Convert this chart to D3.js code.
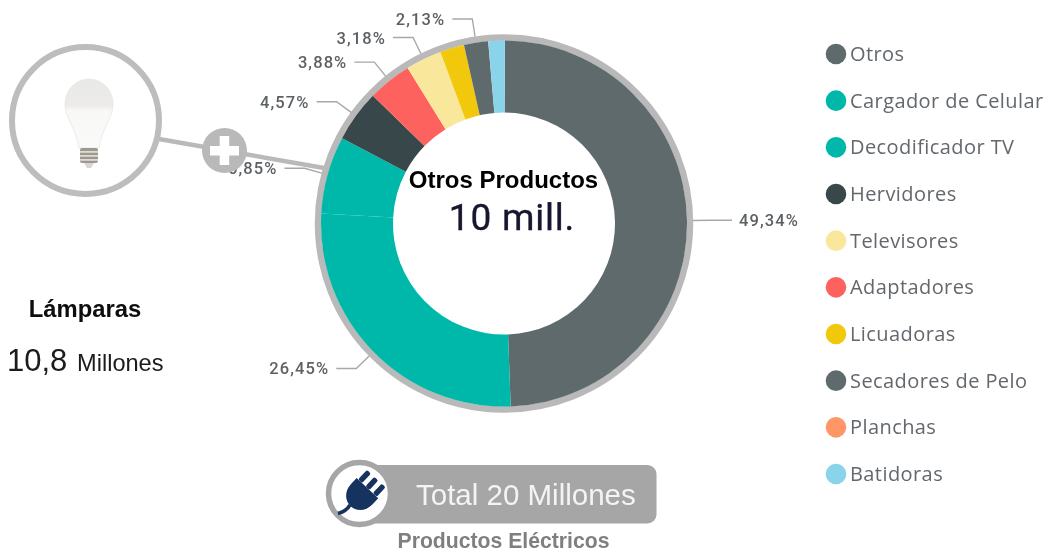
<!DOCTYPE html>
<html><head><meta charset="utf-8">
<style>html,body{margin:0;padding:0;background:#fff;overflow:hidden}svg{display:block}</style>
<script src="https://cdn.jsdelivr.net/npm/d3@7"></script></head>
<body><svg id="c" width="1046" height="554"></svg>
<script>
const legendCategories = ["Otros","Cargador de Celular","Decodificador TV","Hervidores","Televisores","Adaptadores","Licuadoras","Secadores de Pelo","Planchas","Batidoras"];
const legendColors = ["#5F6B6D","#01B8AA","#01B8AA","#374649","#F9E79C","#FD625E","#F2C80F","#5F6B6D","#FE9666","#8AD4EB"];
const sliceCategories = ["Otros","Cargador de Celular","Decodificador TV","Hervidores","Adaptadores","Televisores","Licuadoras","Secadores de Pelo","Planchas","Batidoras"];
const sliceValues = [49.34,26.45,6.85,4.57,3.88,3.18,2.14,2.13,0.01,1.45];
const labelledCategories = ["Otros","Cargador de Celular","Decodificador TV","Hervidores","Adaptadores","Televisores","Secadores de Pelo"];

const svg = d3.select("#c");
const defs = svg.append("defs");
defs.append("filter").attr("id","soft").attr("x","-2%").attr("y","-2%").attr("width","104%").attr("height","104%")
  .append("feGaussianBlur").attr("stdDeviation",0.45);
const bg = defs.append("linearGradient").attr("id","bulb").attr("x1",0).attr("x2",0).attr("y1",0).attr("y2",1);
[[0,"#e9e9e7"],[0.38,"#ecebe9"],[0.46,"#f8f8f6"],[1,"#fafaf9"]].forEach(s=>bg.append("stop").attr("offset",s[0]).attr("stop-color",s[1]));
const root = svg.append("g").attr("filter","url(#soft)");

const color = d3.scaleOrdinal(legendCategories, legendColors);
const cx=504, cy=223.5, rOuter=183, rInner=111, rRing=186, rAnchor=189, rElbow=207;
const pie = d3.pie().sort(null).value(d=>d.v).startAngle(0.005).endAngle(0.005+2*Math.PI);
const arcs = pie(sliceCategories.map((c,i)=>({c,v:sliceValues[i]})));
const arc = d3.arc().innerRadius(rInner).outerRadius(rOuter);
const anchorArc = d3.arc().innerRadius(rAnchor).outerRadius(rAnchor);
const elbowArc = d3.arc().innerRadius(rElbow).outerRadius(rElbow);

const donut = root.append("g").attr("transform",`translate(${cx},${cy})`);
donut.append("circle").attr("r",rRing).attr("fill","none").attr("stroke","#b9b9b9").attr("stroke-width",6.5);
donut.selectAll("path.s").data(arcs).join("path").attr("class","s").attr("d",arc)
  .attr("fill",d=>color(d.data.c));

const lab = arcs.filter(d=>labelledCategories.includes(d.data.c));
lab.forEach(d=>{
  const a=anchorArc.centroid(d), e=elbowArc.centroid(d), right=a[0]>0, end=e[0]+(right?21:-20);
  donut.append("polyline").attr("points",[a,e,[end,e[1]]].map(p=>p.join(",")).join(" "))
    .attr("fill","none").attr("stroke","#a8a8a8").attr("stroke-width",1.4);
  donut.append("text").attr("x",end+(right?7:-7)).attr("y",e[1]).attr("dy","0.36em")
    .attr("text-anchor",right?"start":"end").attr("font-family","Roboto").attr("font-weight",500)
    .attr("font-size",16.5).attr("letter-spacing",1.1).attr("fill","#5c6064")
    .text(d.data.v.toFixed(2).replace(".",",")+"%");
});

root.append("text").attr("x",503.5).attr("y",188).attr("text-anchor","middle")
  .attr("font-family","Liberation Sans").attr("font-weight",700).attr("font-size",24).attr("fill","#000").text("Otros Productos");
root.append("text").attr("x",512).attr("y",230).attr("text-anchor","middle")
  .attr("font-family","Roboto").attr("font-size",37).attr("letter-spacing",0.8).attr("fill","#15152e")
  .attr("stroke","#15152e").attr("stroke-width",0.35).text("10 mill.");

// legend
const ly = d3.scalePoint().domain(legendCategories).range([54,474]);
const lg = root.append("g").selectAll("g").data(legendCategories).join("g").attr("transform",d=>`translate(836,${ly(d)})`);
lg.append("circle").attr("r",10.3).attr("fill",d=>color(d));
lg.append("text").attr("x",14).attr("dy","0.35em").attr("font-family","Open Sans").attr("font-size",20)
  .attr("letter-spacing",0.42).attr("fill","#63676d").text(d=>d);

// bulb callout
root.append("line").attr("x1",159).attr("y1",139).attr("x2",324).attr("y2",168).attr("stroke","#b9b9b9").attr("stroke-width",4.5);
root.append("circle").attr("cx",85.5).attr("cy",120.5).attr("r",73.5).attr("fill","#fff").attr("stroke","#bdbdbd").attr("stroke-width",6);
const b=root.append("g").attr("transform","translate(89,0)");
b.append("path").attr("d","M-24,104 A24,25 0 1 1 24,104 C24,118 13,128 10,148 L-10,148 C-13,128 -24,118 -24,104 Z")
  .attr("fill","url(#bulb)").attr("stroke","#e6e6e4").attr("stroke-width",0.8);
b.append("rect").attr("x",-9).attr("y",148).attr("width",18).attr("height",15).attr("rx",2).attr("fill","#9c9a90");
[151,155,159].forEach(y=>b.append("rect").attr("x",-9).attr("y",y).attr("width",18).attr("height",1.8).attr("fill","#dcdad3"));
b.append("path").attr("d","M-5,163 L5,163 L2,168 L-2,168 Z").attr("fill","#d8d6cf");
root.append("circle").attr("cx",224.5).attr("cy",150.5).attr("r",22.5).attr("fill","#b9b9b9");
root.append("rect").attr("x",210).attr("y",146).attr("width",29).attr("height",9.5).attr("fill","#fff");
root.append("rect").attr("x",219.7).attr("y",136).attr("width",9.5).attr("height",29).attr("fill","#fff");

// left figures
root.append("text").attr("x",85).attr("y",316.5).attr("text-anchor","middle").attr("font-family","Liberation Sans")
  .attr("font-weight",700).attr("font-size",23.8).attr("fill","#0a0a0a").text("Lámparas");
const t=root.append("text").attr("x",7).attr("y",371).attr("font-family","Liberation Sans").attr("fill","#1a1a1a");
t.append("tspan").attr("font-size",31).text("10,8");
t.append("tspan").attr("font-size",23.6).attr("x",77).text("Millones");

// total pill
root.append("rect").attr("x",350).attr("y",465).attr("width",306.5).attr("height",58.5).attr("rx",9).attr("fill","#a6a6a6");
root.append("circle").attr("cx",359.5).attr("cy",493.5).attr("r",31).attr("fill","#fff").attr("stroke","#a6a6a6").attr("stroke-width",5.5);
const p=root.append("g").attr("transform","translate(361,495) rotate(43) scale(1.18)").attr("fill","#17335f");
p.append("path").attr("d","M-12.5,-8 L12.5,-8 L12.5,-1 C12.5,8 6,13 0,13 C-6,13 -12.5,8 -12.5,-1 Z");
[-8.5,0,8.5].forEach(x=>p.append("rect").attr("x",x-2.3).attr("y",-19).attr("width",4.6).attr("height",11).attr("rx",1.5));
root.append("path").attr("d","M350,505 C347,510 344,512 338,513.5").attr("fill","none").attr("stroke","#17335f").attr("stroke-width",3.5);
root.append("text").attr("x",416).attr("y",505).attr("font-family","Liberation Sans").attr("font-size",29.5).attr("fill","#f4f4f4").text("Total 20 Millones");
root.append("text").attr("x",503.5).attr("y",548).attr("text-anchor","middle").attr("font-family","Liberation Sans")
  .attr("font-weight",700).attr("font-size",21.2).attr("fill","#7f7f7f").text("Productos Eléctricos");
</script></body></html>
